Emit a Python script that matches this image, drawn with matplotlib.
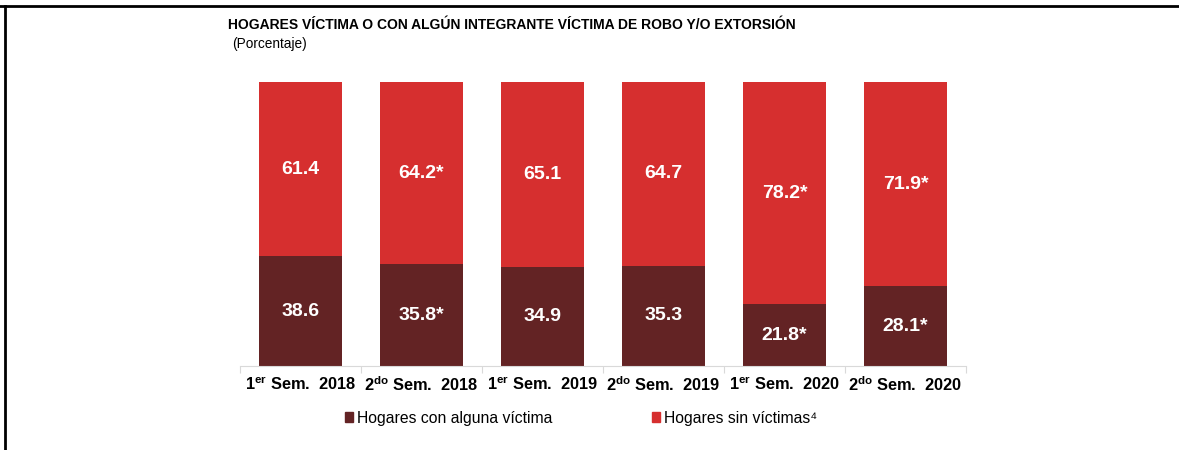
import numpy as np
import matplotlib
matplotlib.use("Agg")
import matplotlib.pyplot as plt
from matplotlib.lines import Line2D
from matplotlib.patches import Patch

plt.rcParams['font.family'] = ['Liberation Sans', 'DejaVu Sans']
plt.rcParams['mathtext.fontset'] = 'custom'
plt.rcParams['mathtext.rm'] = 'Liberation Sans'
plt.rcParams['mathtext.bf'] = 'Liberation Sans:bold'

# datos
periodos = [r"$\mathbf{1^{er}}$ Sem.  2018", r"$\mathbf{2^{do}}$ Sem.  2018",
            r"$\mathbf{1^{er}}$ Sem.  2019", r"$\mathbf{2^{do}}$ Sem.  2019",
            r"$\mathbf{1^{er}}$ Sem.  2020", r"$\mathbf{2^{do}}$ Sem.  2020"]
con_victima = [38.6, 35.8, 34.9, 35.3, 21.8, 28.1]
sin_victima = [61.4, 64.2, 65.1, 64.7, 78.2, 71.9]
etq_con = ["38.6", "35.8*", "34.9", "35.3", "21.8*", "28.1*"]
etq_sin = ["61.4", "64.2*", "65.1", "64.7", "78.2*", "71.9*"]

oscuro = "#632324"
rojo = "#d62f2f"

fig = plt.figure(figsize=(11.79, 4.5), dpi=100)
ax = fig.add_axes([240/1179, 1-366/450, 726/1179, 284/450])

x = np.arange(len(periodos))
ax.bar(x, con_victima, width=0.68, color=oscuro)
ax.bar(x, sin_victima, bottom=con_victima, width=0.68, color=rojo)

for i in range(len(x)):
    ax.text(x[i], con_victima[i]/2, etq_con[i], ha='center', va='center',
            color='white', fontsize=14, fontweight='bold')
    ax.text(x[i], con_victima[i] + sin_victima[i]/2, etq_sin[i], ha='center',
            va='center', color='white', fontsize=14, fontweight='bold')

ax.set_xlim(-0.5, 5.5)
ax.set_ylim(0, 100)
ax.set_yticks([])
for s in ['top', 'right', 'left']:
    ax.spines[s].set_visible(False)
ax.spines['bottom'].set_color('#d9d9d9')
ax.set_xticks(np.arange(-0.5, 6, 1))
ax.set_xticklabels([])
ax.tick_params(axis='x', length=5, color='#d9d9d9')
for i, p in enumerate(periodos):
    ax.text(x[i], -6.5, p, ha='center', va='center', fontsize=11.8,
            fontweight='bold', transform=ax.transData)

fig.text(228/1179, 1-25/450, "HOGARES VÍCTIMA O CON ALGÚN INTEGRANTE VÍCTIMA DE ROBO Y/O EXTORSIÓN",
         fontsize=10, fontweight='bold', va='center')
fig.text(232/1179, 1-44/450, "(Porcentaje)", fontsize=9.8, va='center')

handles = [Patch(color=oscuro), Patch(color=rojo)]
fig.legend(handles, ["Hogares con alguna víctima", "Hogares sin víctimas⁴"],
           loc='center', bbox_to_anchor=(581/1179, 1-418/450), ncol=2,
           frameon=False, fontsize=11.3, handlelength=0.55, handleheight=0.55,
           handletextpad=0.25, columnspacing=6.3)

# marco
fig.add_artist(Line2D([0, 1], [1-6/450, 1-6/450], color='black', lw=2))
fig.add_artist(Line2D([5/1179, 5/1179], [0, 1-6/450], color='black', lw=2))

fig.savefig("out.png", dpi=100)
